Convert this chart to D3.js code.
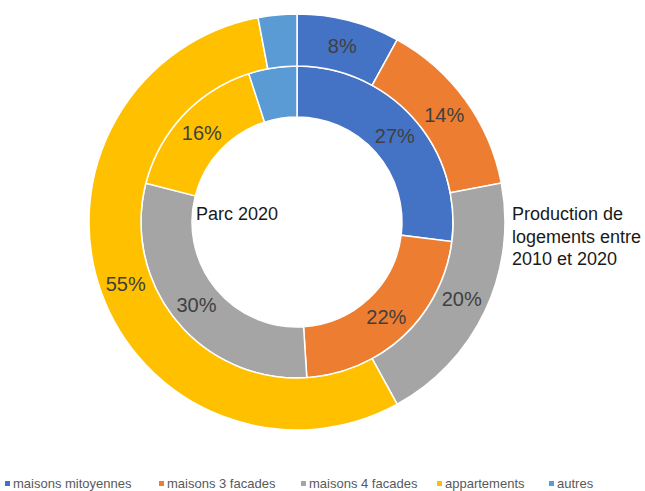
<!DOCTYPE html>
<html><head><meta charset="utf-8">
<script src="https://cdn.jsdelivr.net/npm/d3@7"></script>
<style>body{margin:0;background:#fff}svg{display:block;font-family:"Liberation Sans",Arial,sans-serif}</style>
</head><body><svg id="c" width="645" height="491"></svg>
<script>
const categories = ["maisons mitoyennes","maisons 3 facades","maisons 4 facades","appartements","autres"];
const colors = ["#4472C4","#ED7D31","#A5A5A5","#FFC000","#5B9BD5"];
const parc2020 = [27,22,30,16,5];
const production = [8,14,20,55,3];
const labelsShown = [true,true,true,true,false];

const svg = d3.select("#c");
const cx = 297, cy = 222;
const g = svg.append("g").attr("transform",`translate(${cx},${cy})`);
const pie = d3.pie().sort(null).value(d=>d);

function ring(data, r0, r1){
  const arc = d3.arc().innerRadius(r0).outerRadius(r1);
  const arcs = pie(data);
  g.selectAll(null).data(arcs).enter().append("path")
    .attr("d",arc).attr("fill",(d,i)=>colors[i])
    .attr("stroke","#fff").attr("stroke-width",1.5);
  g.selectAll(null).data(arcs.filter((d,i)=>labelsShown[i])).enter().append("text")
    .attr("transform",d=>`translate(${arc.centroid(d)})`)
    .attr("text-anchor","middle").attr("dominant-baseline","central")
    .attr("font-size",20).attr("fill","#404040")
    .text(d=>d.data+"%");
}
ring(parc2020,105,156);
ring(production,156,208);

svg.append("text").attr("x",196).attr("y",220).attr("font-size",18).attr("fill","#1a1a1a").text("Parc 2020");
const prod = svg.append("text").attr("x",512).attr("y",220).attr("font-size",18).attr("fill","#1a1a1a");
["Production de","logements entre","2010 et 2020"].forEach((t,i)=>prod.append("tspan").attr("x",512).attr("y",220+i*22.5).text(t));

const legX = [5,159,301,437,549];
const leg = svg.append("g");
categories.forEach((c,i)=>{
  leg.append("rect").attr("x",legX[i]).attr("y",481).attr("width",5).attr("height",5).attr("fill",colors[i]);
  leg.append("text").attr("x",legX[i]+8).attr("y",488).attr("font-size",13).attr("fill","#595959").text(c);
});
</script></body></html>
